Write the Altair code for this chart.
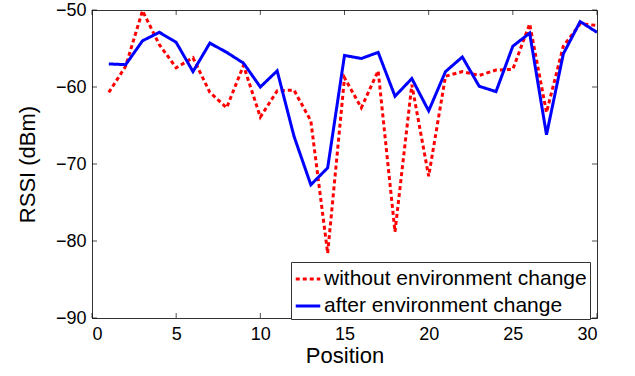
import altair as alt
import pandas as pd

# RSSI readings at each measurement position
positions = list(range(1, 31))
rssi_without = [-60.7, -57.3, -50.1, -54.5, -57.5, -56.2, -60.7, -62.7, -57.2, -63.9,
                -60.5, -60.4, -64.4, -81.6, -58.8, -62.7, -57.9, -78.8, -59.7, -71.6,
                -58.6, -58.0, -58.5, -57.8, -57.7, -51.8, -63.3, -54.7, -51.8, -52.0]
rssi_after = [-57.0, -57.1, -54.0, -52.9, -54.2, -58.0, -54.3, -55.5, -56.9, -60.0,
              -57.9, -66.4, -72.7, -70.5, -55.9, -56.3, -55.5, -61.2, -58.9, -63.1,
              -58.0, -56.1, -59.9, -60.6, -54.7, -53.0, -66.2, -55.7, -51.5, -52.9]
series_names = ["without environment change", "after environment change"]
series_colors = ["#ff0000", "#0000ff"]

x_ticks = [0, 5, 10, 15, 20, 25, 30]
y_ticks = [-90, -80, -70, -60, -50]

W, H = 505, 308
FONT = "Liberation Sans"

df = pd.DataFrame({
    "Position": positions * 2,
    "RSSI": rssi_without + rssi_after,
    "Series": [series_names[0]] * len(positions) + [series_names[1]] * len(positions),
})

x_scale = alt.Scale(domain=[0, 30], nice=False, zero=False)
y_scale = alt.Scale(domain=[-90, -50], nice=False, zero=False)


def series_legend():
    return alt.Legend(title=None, orient="none", legendX=199, legendY=252,
                      symbolType="stroke", symbolSize=600, symbolStrokeWidth=3,
                      labelFontSize=21, labelFont=FONT, labelColor="black",
                      labelLimit=0, fillColor="white", strokeColor="#333333",
                      padding=3, rowPadding=3, labelOffset=2)


lines = alt.Chart(df).mark_line(strokeWidth=3, clip=True).encode(
    x=alt.X("Position:Q", scale=x_scale,
            axis=alt.Axis(values=x_ticks, title="Position", ticks=False,
                          labelPadding=7, titlePadding=2, grid=False)),
    y=alt.Y("RSSI:Q", scale=y_scale,
            axis=alt.Axis(values=y_ticks, title="RSSI (dBm)", ticks=False,
                          labelPadding=6, titlePadding=16, grid=False)),
    color=alt.Color("Series:N", sort=series_names,
                    scale=alt.Scale(domain=series_names, range=series_colors),
                    legend=series_legend()),
    strokeDash=alt.StrokeDash("Series:N", sort=series_names,
                              scale=alt.Scale(domain=series_names, range=[[4, 3], [1, 0]]),
                              legend=series_legend()),
)

# inward-pointing tick marks on all four sides of the box
xt = pd.DataFrame({"t": x_ticks})
yt = pd.DataFrame({"t": y_ticks})
tick_len = 5
bottom_ticks = alt.Chart(xt).mark_tick(orient="vertical", color="black", thickness=1,
                                       size=tick_len).encode(
    x=alt.X("t:Q", scale=x_scale), y=alt.value(H - tick_len / 2))
top_ticks = alt.Chart(xt).mark_tick(orient="vertical", color="black", thickness=1,
                                    size=tick_len).encode(
    x=alt.X("t:Q", scale=x_scale), y=alt.value(tick_len / 2))
left_ticks = alt.Chart(yt).mark_tick(orient="horizontal", color="black", thickness=1,
                                     size=tick_len).encode(
    y=alt.Y("t:Q", scale=y_scale), x=alt.value(tick_len / 2))
right_ticks = alt.Chart(yt).mark_tick(orient="horizontal", color="black", thickness=1,
                                      size=tick_len).encode(
    y=alt.Y("t:Q", scale=y_scale), x=alt.value(W - tick_len / 2))

chart = alt.layer(bottom_ticks, top_ticks, left_ticks, right_ticks, lines).properties(
    width=W, height=H,
    autosize=alt.AutoSizeParams(type="none"),
    padding={"left": 92, "top": 10, "right": 38, "bottom": 58},
    background="white",
).configure_view(
    stroke="#333333", strokeWidth=1,
).configure_axis(
    labelFont=FONT, titleFont=FONT, labelFontSize=18, titleFontSize=22,
    labelColor="black", titleColor="black", titleFontWeight="normal",
    domainColor="#333333", domainWidth=1,
)

chart.save("out.html", embed_options={"renderer": "svg", "actions": False})
